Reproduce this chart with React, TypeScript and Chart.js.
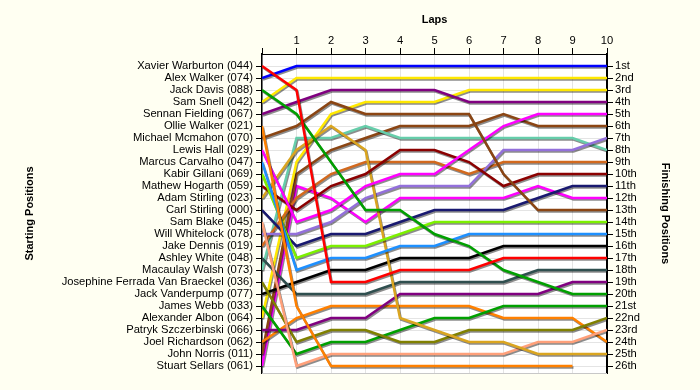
import React, { useEffect, useRef } from 'react';
import { Chart, registerables } from 'chart.js';

Chart.register(...registerables);

// Laps (x axis)
const laps = [0, 1, 2, 3, 4, 5, 6, 7, 8, 9, 10];

// Drivers in starting order (left axis labels)
const drivers = [
  'Xavier Warburton (044)',
  'Alex Walker (074)',
  'Jack Davis (088)',
  'Sam Snell (042)',
  'Sennan Fielding (067)',
  'Ollie Walker (021)',
  'Michael Mcmahon (070)',
  'Lewis Hall (029)',
  'Marcus Carvalho (047)',
  'Kabir Gillani (069)',
  'Mathew Hogarth (059)',
  'Adam Stirling (023)',
  'Carl Stirling (000)',
  'Sam Blake (045)',
  'Will Whitelock (078)',
  'Jake Dennis (019)',
  'Ashley White (048)',
  'Macaulay Walsh (073)',
  'Josephine Ferrada Van Braeckel (036)',
  'Jack Vanderpump (077)',
  'James Webb (033)',
  'Alexander Albon (064)',
  'Patryk Szczerbinski (066)',
  'Joel Richardson (062)',
  'John Norris (011)',
  'Stuart Sellars (061)',
];

// Finishing position labels (right axis)
const finishLabels = [
  '1st', '2nd', '3rd', '4th', '5th', '6th', '7th', '8th', '9th', '10th',
  '11th', '12th', '13th', '14th', '15th', '16th', '17th', '18th', '19th', '20th',
  '21st', '22nd', '23rd', '24th', '25th', '26th',
];

// Line colours, one per driver (same order as drivers)
const lineColors = [
  '#ff0000', '#0000ff', '#00a000', '#ffe800', '#800080', '#ff8000', '#8b4513', '#ff00ff',
  '#1e90ff', '#7cf000', '#8b0000', '#daa520', '#191970', '#ffa07a', '#9370db', '#d2691e',
  '#2f4f4f', '#66cdaa', '#808000', '#000000', '#00a000', '#ffe800', '#800080', '#ff8000',
  '#8b4513', '#ff00ff',
];

// Position of each driver at the end of each lap (lap 0 = grid)
const xavier = [1, 3, 19, 19, 18, 18, 18, 17, 17, 17, 17];
const alexW = [2, 1, 1, 1, 1, 1, 1, 1, 1, 1, 1];
const jackDavis = [3, 5, 9, 13, 13, 15, 16, 18, 19, 20, 20];
const samSnell = [4, 2, 2, 2, 2, 2, 2, 2, 2, 2, 2];
const sennan = [5, 4, 3, 3, 3, 3, 4, 4, 4, 4, 4];
const ollie = [6, 21, 26, 26, 26, 26, 26, 26, 26, 26, null];
const michael = [7, 6, 4, 5, 5, 5, 5, 10, 13, 13, 13];
const lewis = [8, 14, 13, 11, 10, 10, 8, 6, 5, 5, 5];
const marcus = [9, 18, 17, 17, 16, 16, 15, 15, 15, 15, 15];
const kabir = [10, 17, 16, 16, 15, 14, 14, 14, 14, 14, 14];
const mathew = [11, 13, 11, 10, 8, 8, 9, 11, 10, 10, 10];
const adam = [12, 8, 6, 8, 22, 23, 24, 24, 25, 25, 25];
const carl = [13, 16, 15, 15, 14, 13, 13, 13, 12, 11, 11];
const samBlake = [14, 26, 25, 25, 25, 25, 25, 25, 24, 24, 23];
const will = [15, 15, 14, 12, 11, 11, 11, 8, 8, 8, 7];
const jakeDennis = [16, 12, 10, 9, 9, 9, 10, 9, 9, 9, 9];
const ashley = [17, 20, 20, 20, 19, 19, 19, 19, 18, 18, 18];
const macaulay = [18, 7, 7, 6, 7, 7, 7, 7, 7, 7, 8];
const josephine = [19, 24, 23, 23, 24, 24, 23, 23, 23, 23, 22];
const jackV = [20, 19, 18, 18, 17, 17, 17, 16, 16, 16, 16];
const jamesWebb = [21, 25, 24, 24, 23, 22, 22, 21, 21, 21, 21];
const albon = [22, 9, 5, 4, 4, 4, 3, 3, 3, 3, 3];
const patryk = [23, 23, 22, 22, 20, 20, 20, 20, 20, 19, 19];
const joel = [24, 22, 21, 21, 21, 21, 21, 22, 22, 22, 24];
const johnNorris = [25, 10, 8, 7, 6, 6, 6, 5, 6, 6, 6];
const stuart = [26, 11, 12, 14, 12, 12, 12, 12, 11, 12, 12];

const positionsByDriver: (number | null)[][] = [
  xavier, alexW, jackDavis, samSnell, sennan, ollie, michael, lewis, marcus, kabir,
  mathew, adam, carl, samBlake, will, jakeDennis, ashley, macaulay, josephine, jackV,
  jamesWebb, albon, patryk, joel, johnNorris, stuart,
];

const FONT = 'Liberation Sans, Arial, sans-serif';

const bgPlugin = {
  id: 'bgPlugin',
  beforeDraw(chart: any) {
    const { ctx, chartArea } = chart;
    ctx.save();
    ctx.fillStyle = '#fffff2';
    ctx.fillRect(0, 0, chart.width, chart.height);
    ctx.fillStyle = '#ffffff';
    ctx.fillRect(chartArea.left, chartArea.top, chartArea.right - chartArea.left, chartArea.bottom - chartArea.top);
    ctx.restore();
  },
  afterDatasetsDraw(chart: any) {
    const { ctx, chartArea } = chart;
    ctx.save();
    ctx.strokeStyle = '#c8c8c8';
    ctx.lineWidth = 1;
    ctx.beginPath();
    ctx.moveTo(chartArea.left, chartArea.bottom + 0.5);
    ctx.lineTo(chartArea.right, chartArea.bottom + 0.5);
    ctx.stroke();
    ctx.restore();
  },
};

const shadowPlugin = {
  id: 'shadowPlugin',
  beforeDatasetDraw(chart: any) {
    const ctx = chart.ctx;
    ctx.save();
    ctx.shadowColor = 'rgba(0,0,0,0.45)';
    ctx.shadowOffsetX = 1;
    ctx.shadowOffsetY = 1.5;
    ctx.shadowBlur = 0;
  },
  afterDatasetDraw(chart: any) {
    chart.ctx.restore();
  },
};

export default function App() {
  const canvasRef = useRef<HTMLCanvasElement | null>(null);

  useEffect(() => {
    document.body.style.margin = '0';
    const canvas = canvasRef.current;
    if (!canvas) return;

    const datasets = drivers.map((name, i) => ({
      label: name,
      data: laps.map((lap, j) => ({ x: lap, y: positionsByDriver[i][j] })),
      borderColor: lineColors[i],
      backgroundColor: lineColors[i],
      borderWidth: 2.5,
      pointRadius: 0,
      tension: 0,
      fill: false,
      spanGaps: false,
    }));

    const yTicks = () => drivers.map((_, i) => ({ value: i + 1 }));

    const chart = new Chart(canvas, {
      type: 'line',
      data: { datasets },
      options: {
        animation: false,
        responsive: false,
        devicePixelRatio: 1,
        layout: { padding: { left: 0, right: 0, top: 0, bottom: 17 } },
        plugins: { legend: { display: false }, tooltip: { enabled: false } },
        scales: {
          x: {
            type: 'linear',
            position: 'top',
            min: 0,
            max: 10,
            afterBuildTicks: (axis: any) => {
              axis.ticks = laps.map((v) => ({ value: v }));
            },
            afterFit: (scale: any) => {
              scale.height = 54;
            },
            ticks: {
              color: '#000',
              font: { family: FONT, size: 11.2 },
              padding: 0,
              maxRotation: 0,
              callback: (v: any) => (v === 0 ? '' : String(v)),
            },
            grid: { color: '#e4e4e4', tickColor: '#000', tickLength: 6, lineWidth: 1 },
            border: { display: true, color: '#000', width: 1 },
            title: {
              display: true,
              text: 'Laps',
              color: '#000',
              font: { family: FONT, size: 11, weight: 'bold' },
              padding: { top: 13, bottom: 0 },
            },
          },
          y: {
            type: 'linear',
            position: 'left',
            reverse: true,
            min: 0,
            max: 26.58,
            afterBuildTicks: (axis: any) => {
              axis.ticks = yTicks();
            },
            afterFit: (scale: any) => {
              scale.width = 262;
            },
            ticks: {
              color: '#000',
              font: { family: FONT, size: 11.2 },
              padding: 3,
              autoSkip: false,
              callback: (v: any) => drivers[Number(v) - 1] ?? '',
            },
            grid: { color: '#e4e4e4', tickColor: '#000', tickLength: 6, lineWidth: 1 },
            border: { display: true, color: '#000', width: 1.5 },
            title: {
              display: true,
              text: 'Starting Positions',
              color: '#000',
              font: { family: FONT, size: 11, weight: 'bold' },
              padding: { top: 23, bottom: 0 },
            },
          },
          y2: {
            type: 'linear',
            position: 'right',
            reverse: true,
            min: 0,
            max: 26.58,
            afterBuildTicks: (axis: any) => {
              axis.ticks = yTicks();
            },
            afterFit: (scale: any) => {
              scale.width = 93;
            },
            ticks: {
              color: '#000',
              font: { family: FONT, size: 11.2 },
              padding: 2,
              autoSkip: false,
              callback: (v: any) => finishLabels[Number(v) - 1] ?? '',
            },
            grid: { drawOnChartArea: false, tickColor: '#000', tickLength: 6 },
            border: { display: true, color: '#000', width: 2 },
            title: {
              display: true,
              text: 'Finishing Positions',
              color: '#000',
              font: { family: FONT, size: 11, weight: 'bold' },
              padding: { top: 28, bottom: 0 },
            },
          },
        },
      },
      plugins: [bgPlugin, shadowPlugin],
    } as any);

    return () => chart.destroy();
  }, []);

  return (
    <div style={{ width: 700, height: 390 }}>
      <canvas ref={canvasRef} width={700} height={390} style={{ display: 'block' }} />
    </div>
  );
}
